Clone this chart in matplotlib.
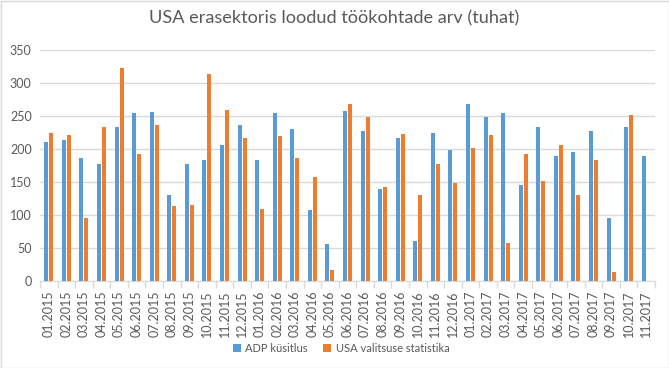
import matplotlib
matplotlib.use("Agg")
import matplotlib.pyplot as plt
import numpy as np
from matplotlib.patches import Rectangle

categories = ["01.2015", "02.2015", "03.2015", "04.2015", "05.2015", "06.2015", "07.2015",
              "08.2015", "09.2015", "10.2015", "11.2015", "12.2015", "01.2016", "02.2016",
              "03.2016", "04.2016", "05.2016", "06.2016", "07.2016", "08.2016", "09.2016",
              "10.2016", "11.2016", "12.2016", "01.2017", "02.2017", "03.2017", "04.2017",
              "05.2017", "06.2017", "07.2017", "08.2017", "09.2017", "10.2017", "11.2017"]
adp = [210, 213, 186, 177, 233, 254, 256, 131, 178, 183, 206, 236, 183, 254, 230, 107, 56,
       257, 228, 139, 216, 60, 225, 199, 268, 248, 254, 146, 233, 190, 196, 227, 95, 233, 189]
bls = [225, 221, 95, 234, 322, 193, 237, 113, 115, 313, 259, 216, 109, 219, 187, 157, 16,
       268, 248, 142, 222, 131, 177, 148, 202, 221, 57, 192, 151, 206, 131, 183, 13, 251, np.nan]
series_names = ["ADP küsitlus", "USA valitsuse statistika"]
title = "USA erasektoris loodud töökohtade arv (tuhat)"

plt.rcParams['font.family'] = ['Lato', 'DejaVu Sans']
txt = '#595959'
grid = '#D9D9D9'

fig = plt.figure(figsize=(6.69, 3.68), dpi=100)
ax = fig.add_axes([40/669, 1-281/368, 615/669, 231/368])

x = np.arange(len(categories))
w = 0.23
ax.bar(x - 0.145, adp, width=w, color='#5B9BD5', label=series_names[0], zorder=3)
ax.bar(x + 0.145, bls, width=w, color='#ED7D31', label=series_names[1], zorder=3)

ax.set_xlim(-0.5, len(categories) - 0.5)
ax.set_ylim(0, 350)
ax.set_yticks(range(0, 351, 50))
ax.yaxis.grid(True, color=grid, linewidth=1, zorder=0)
ax.set_axisbelow(True)
for s in ['left', 'right', 'top']:
    ax.spines[s].set_visible(False)
ax.spines['bottom'].set_color(grid)
ax.tick_params(axis='y', length=0, labelsize=9, labelcolor=txt, pad=6)
ax.set_xticks(x)
ax.set_xticklabels(categories, rotation=90, fontsize=9, color=txt)
ax.tick_params(axis='x', which='major', length=0, pad=7)
ax.set_xticks(np.arange(-0.5, len(categories), 1), minor=True)
ax.tick_params(axis='x', which='minor', length=5, color=grid, width=1)

fig.suptitle(title, x=0.5, y=1-18/368, va='center', fontsize=13.1, color=txt)

leg = fig.legend(loc='center', bbox_to_anchor=(0.51, 1-348/368), ncol=2, frameon=False,
                 fontsize=8, handlelength=0.7, handleheight=0.7, handletextpad=0.4,
                 columnspacing=1.4, labelcolor=txt)

fig.patches.append(Rectangle((0.5/669, 0.5/368), 1-1/669, 1-1/368, transform=fig.transFigure,
                             fill=False, edgecolor=grid, linewidth=1))

fig.savefig("out.png", dpi=100)
